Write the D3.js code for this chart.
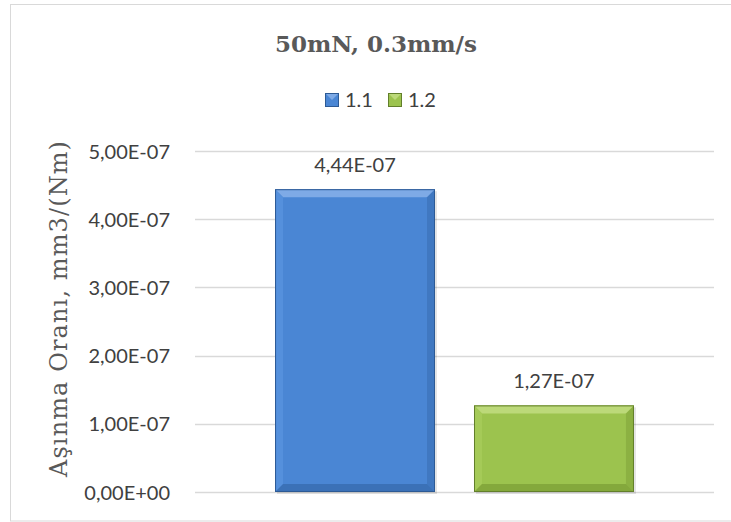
<!DOCTYPE html>
<html>
<head>
<meta charset="utf-8">
<script src="https://cdn.jsdelivr.net/npm/d3@7"></script>
<style>
  html, body { margin: 0; padding: 0; background: #ffffff; }
  svg { display: block; }
</style>
</head>
<body>
<svg id="chart" width="731" height="522"></svg>
<script>
// Wear-rate data: one test condition, two samples
const title = "50mN, 0.3mm/s";
const categories = [""];
const seriesNames = ["1.1", "1.2"];
const seriesValues = [4.44e-7, 1.27e-7];
const valueLabels = ["4,44E-07", "1,27E-07"];
const yTicks = [0, 1e-7, 2e-7, 3e-7, 4e-7, 5e-7];
const yTickLabels = ["0,00E+00", "1,00E-07", "2,00E-07", "3,00E-07", "4,00E-07", "5,00E-07"];
const yTitle = "Aşınma Oranı, mm3/(Nm)";

const palette = [
  { base: "#4a86d4", light: "#5590dc", lighter: "#7eaae6", dark: "#3568ab", edge: "#2d5a95" },
  { base: "#9cc34e", light: "#a5ca58", lighter: "#bcd979", dark: "#7a9c35", edge: "#627f2b" }
];

const sansFont = "Lato, 'Open Sans', sans-serif";
const serifFont = "'DejaVu Serif', 'Liberation Serif', serif";

const svg = d3.select("#chart");
const W = 731, H = 522;
const plot = { left: 195, right: 714, top: 151, bottom: 492 };

// Outer frame
svg.append("rect")
  .attr("x", 10.5).attr("y", 4.5)
  .attr("width", W - 10).attr("height", H - 4.5 - 1)
  .attr("fill", "#ffffff").attr("stroke", "#d9d9d9").attr("stroke-width", 1);

const y = d3.scaleLinear().domain([0, 5e-7]).range([plot.bottom, plot.top]);
const x0 = d3.scaleBand().domain(categories).range([plot.left, plot.right])
  .paddingInner(0).paddingOuter(0.223);
const x1 = d3.scaleBand().domain(seriesNames).range([0, x0.bandwidth()])
  .paddingInner(0.196).paddingOuter(0);

// Gridlines
svg.append("g").selectAll("line").data(yTicks).join("line")
  .attr("x1", plot.left).attr("x2", plot.right)
  .attr("y1", d => Math.round(y(d)) + 0.5).attr("y2", d => Math.round(y(d)) + 0.5)
  .attr("stroke", "#d9d9d9").attr("stroke-width", 1.5);

// Y tick labels
const yAxis = d3.axisLeft(y).tickValues(yTicks)
  .tickFormat((d, i) => yTickLabels[i]).tickSize(0).tickPadding(0);
const gy = svg.append("g").attr("transform", `translate(${plot.left - 25},0)`).call(yAxis);
gy.select(".domain").remove();
gy.selectAll("text")
  .attr("font-family", sansFont)
  .attr("font-size", 20).attr("fill", "#404040").attr("dy", "0.35em");

// Y axis title
svg.append("text")
  .attr("transform", `translate(67,309) rotate(-90)`)
  .attr("text-anchor", "middle")
  .attr("font-family", serifFont)
  .attr("font-size", 24).attr("fill", "#595959")
  .attr("textLength", 336).attr("lengthAdjust", "spacing")
  .text(yTitle);

// Chart title
svg.append("text")
  .attr("x", 376).attr("y", 52)
  .attr("text-anchor", "middle")
  .attr("font-family", serifFont)
  .attr("font-weight", "bold").attr("font-size", 23).attr("fill", "#595959")
  .text(title);

// Legend
const legend = svg.append("g").attr("transform", "translate(325,93)");
const legendX = [0, 63];
seriesNames.forEach((name, i) => {
  const g = legend.append("g").attr("transform", `translate(${legendX[i]},0)`);
  const c = palette[i];
  g.append("rect").attr("x", 0.5).attr("y", 0.5).attr("width", 13).attr("height", 13)
    .attr("fill", c.base).attr("stroke", c.edge);
  g.append("path").attr("d", "M1,1 L13,1 L7,7 Z").attr("fill", c.lighter);
  g.append("text").attr("x", 20).attr("y", 14)
    .attr("font-family", sansFont)
    .attr("font-size", 20).attr("fill", "#404040").text(name);
});

// Bars with bevelled edges
const bevel = 8;
const barData = seriesNames.map((name, i) => ({ name, value: seriesValues[i], label: valueLabels[i], c: palette[i] }));
const bars = svg.append("g").selectAll("g").data(barData).join("g")
  .attr("transform", d => `translate(${x0(categories[0]) + x1(d.name)},0)`);

bars.each(function(d) {
  const g = d3.select(this);
  const w = x1.bandwidth();
  const top = y(d.value), bot = y(0);
  const h = bot - top;
  const c = d.c;
  // soft shadow
  g.append("rect").attr("x", 2).attr("y", top + 2).attr("width", w).attr("height", h)
    .attr("fill", "#000").attr("opacity", 0.1);
  g.append("rect").attr("x", 0).attr("y", top).attr("width", w).attr("height", h).attr("fill", c.base);
  // top bevel
  g.append("path").attr("d", `M0,${top} L${w},${top} L${w - bevel},${top + bevel} L${bevel},${top + bevel} Z`)
    .attr("fill", c.lighter);
  // left bevel
  g.append("path").attr("d", `M0,${top} L${bevel},${top + bevel} L${bevel},${bot - bevel} L0,${bot} Z`)
    .attr("fill", c.light);
  // right bevel
  g.append("path").attr("d", `M${w},${top} L${w - bevel},${top + bevel} L${w - bevel},${bot - bevel} L${w},${bot} Z`)
    .attr("fill", c.dark).attr("opacity", 0.45);
  // bottom bevel
  g.append("path").attr("d", `M0,${bot} L${bevel},${bot - bevel} L${w - bevel},${bot - bevel} L${w},${bot} Z`)
    .attr("fill", c.dark).attr("opacity", 0.7);
  g.append("rect").attr("x", 0.5).attr("y", top + 0.5).attr("width", w - 1).attr("height", h - 1)
    .attr("fill", "none").attr("stroke", c.edge).attr("stroke-width", 1);
  // value label
  g.append("text").attr("x", w / 2).attr("y", top - 17)
    .attr("text-anchor", "middle")
    .attr("font-family", sansFont)
    .attr("font-size", 20).attr("fill", "#404040").text(d.label);
});
</script>
</body>
</html>
